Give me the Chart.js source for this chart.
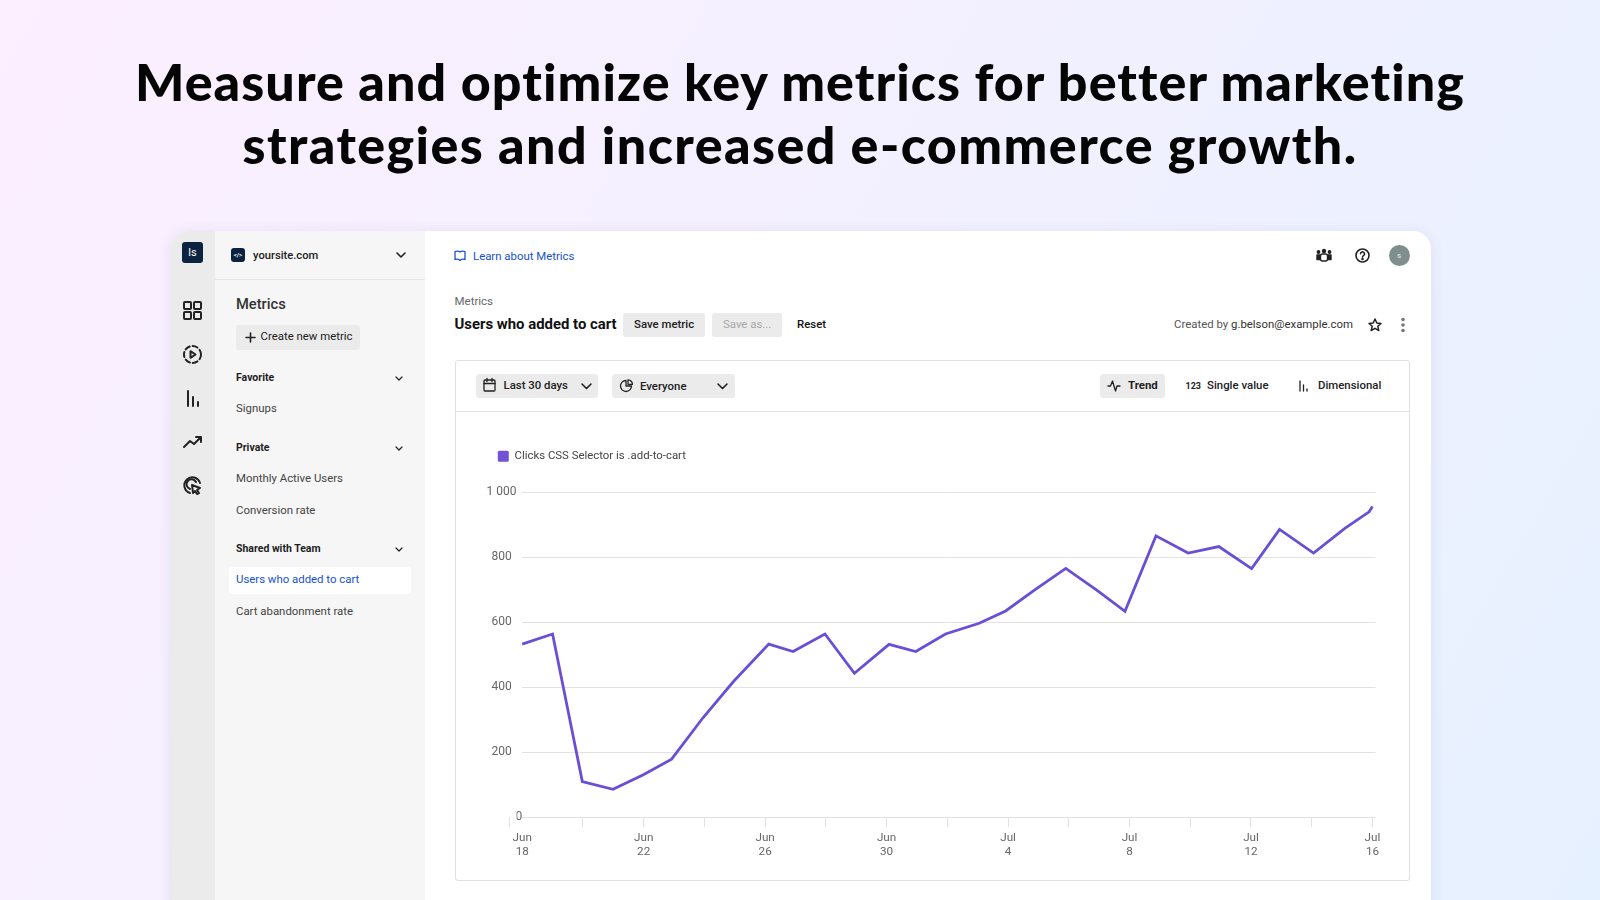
<!DOCTYPE html>
<html><head><meta charset="utf-8">
<script src="https://cdn.jsdelivr.net/npm/chart.js@4"></script>
<style>
html,body{margin:0;padding:0;width:1600px;height:900px;overflow:hidden}
body{position:relative;background:linear-gradient(120deg,#fcefff 0%,#f3f0ff 45%,#e6f1ff 100%);font-family:Roboto,sans-serif;color:#222}
.h{position:absolute;left:0;width:1600px;text-align:center;font-family:Lato,sans-serif;font-weight:900;font-size:52px;line-height:64px;color:#050505;white-space:nowrap}
.b{position:absolute}
.t{position:absolute;transform:translateY(-50%);font-size:11.4px;line-height:16px;white-space:nowrap}
.m{font-weight:500}
.s{font-weight:700;font-size:10.5px;color:#1e1e1e}
.g{color:#444}
.btn{position:absolute;background:#ebebeb;border-radius:3px}
svg{position:absolute;overflow:visible;fill:none;stroke:#222;stroke-width:1.6;stroke-linecap:round;stroke-linejoin:round}
svg.r{stroke-width:2}
</style></head><body>
<div class="h" style="top:48.5px;letter-spacing:1.07px">Measure and optimize key metrics for better marketing</div>
<div class="h" style="top:112px;letter-spacing:1.42px">strategies and increased e-commerce growth.</div>

<div class="b" style="left:171px;top:231px;width:1260px;height:700px;background:#fff;border-radius:18px;box-shadow:0 2px 14px rgba(90,80,150,.12);overflow:hidden"></div>
<div class="b" style="left:171px;top:231px;width:44px;height:669px;background:#ebebeb;border-top-left-radius:18px"></div>
<div class="b" style="left:215px;top:231px;width:210px;height:669px;background:#f6f6f6"></div>
<div class="b" style="left:215px;top:279px;width:210px;height:1px;background:#e6e6e6"></div>

<div class="b" style="left:182px;top:242px;width:21px;height:21px;background:#0c2340;border-radius:3px;color:#fff;font-size:11px;line-height:21px;text-align:center">ls</div>
<svg class="r" style="left:183px;top:301px" width="19" height="19"><rect x="1" y="1" width="7" height="7" rx="1"/><rect x="11" y="1" width="7" height="7" rx="1"/><rect x="1" y="11" width="7" height="7" rx="1"/><rect x="11" y="11" width="7" height="7" rx="1"/></svg>
<svg class="r" style="left:183px;top:345px" width="19" height="19"><circle cx="9.5" cy="9.5" r="8.5" stroke-dasharray="5 3"/><path d="M7.5 6.2v6.6l5-3.3z"/></svg>
<svg class="r" style="left:186px;top:390px" width="14" height="17"><path d="M2 1v15M7 7v9M12 12v4"/></svg>
<svg class="r" style="left:183px;top:435px" width="20" height="13"><path d="M1 12l6-6 4 3 7-7M13 2h5v5"/></svg>
<svg class="r" style="left:183px;top:476px" width="19" height="19"><path d="M17 7A8 8 0 1 0 7 17"/><path d="M13 6a5 5 0 1 0-6 7"/><path d="M9 9l8 3-3 2 2 3-2 1-2-3-2 2z"/></svg>

<div class="b" style="left:231px;top:248px;width:14px;height:14px;background:#0c2340;border-radius:3px;color:#fff;font-size:6px;line-height:14px;text-align:center;font-weight:700">&lt;/&gt;</div>
<div class="t m" style="left:253px;top:255.5px;font-size:11.2px">yoursite.com</div>
<svg style="left:396px;top:252px" width="10" height="6"><path d="M1 1l4 4 4-4"/></svg>
<div class="t m" style="left:236px;top:304px;font-size:14.7px;color:#333">Metrics</div>
<div class="btn" style="left:236px;top:325px;width:124px;height:25px"></div>
<svg style="left:245px;top:332px" width="11" height="11"><path d="M5.5 1v9M1 5.5h9"/></svg>
<div class="t" style="left:260.5px;top:336px">Create new metric</div>
<div class="t s" style="left:236px;top:377.500px">Favorite</div>
<svg style="left:395px;top:376px;stroke-width:1.2" width="8" height="5"><path d="M1 1l3 3 3-3"/></svg>
<div class="t g" style="left:236px;top:408px">Signups</div>
<div class="t s" style="left:236px;top:447.500px">Private</div>
<svg style="left:395px;top:446px;stroke-width:1.2" width="8" height="5"><path d="M1 1l3 3 3-3"/></svg>
<div class="t g" style="left:236px;top:478px">Monthly Active Users</div>
<div class="t g" style="left:236px;top:509.5px">Conversion rate</div>
<div class="t s" style="left:236px;top:548.5px">Shared with Team</div>
<svg style="left:395px;top:547px;stroke-width:1.2" width="8" height="5"><path d="M1 1l3 3 3-3"/></svg>
<div class="b" style="left:229px;top:567px;width:182px;height:27px;background:#fff;border-radius:3px"></div>
<div class="t" style="left:236px;top:579px;color:#1652cf">Users who added to cart</div>
<div class="t g" style="left:236px;top:610.5px">Cart abandonment rate</div>

<svg style="left:454px;top:250px;stroke:#1652cf;stroke-width:1.3" width="12" height="12"><path d="M1 1.5c2-.6 3.5-.4 5 .4 1.500-.8 3-1 5-.4v8c-2-.6-3.500-.4-5 .9-1.500-1.300-3-1.500-5-.9z"/></svg>
<div class="t" style="left:473px;top:256px;color:#1652cf">Learn about Metrics</div>
<svg style="left:1316px;top:249px;stroke-width:1.4" width="16" height="13"><circle cx="8" cy="2" r="1.500" fill="#222"/><circle cx="2.500" cy="3" r="1.200" fill="#222"/><circle cx="13.500" cy="3" r="1.200" fill="#222"/><rect x="4.500" y="5" width="7" height="7" rx="2"/><path d="M1 6h3v4.500H1zM12 6h3v4.500h-3z" fill="#222"/></svg>
<svg style="left:1355px;top:248px" width="15" height="15"><circle cx="7.500" cy="7.500" r="6.500"/><path d="M5.500 5.800a2 2 0 1 1 3 1.800c-.7.400-1 .8-1 1.500" /><circle cx="7.500" cy="11" r=".5" fill="#222"/></svg>
<div class="b" style="left:1388.500px;top:244.500px;width:21px;height:21px;border-radius:50%;background:#7f8f8c;color:#e8eeee;font-size:8px;line-height:21px;text-align:center">s</div>

<div class="t" style="left:454.500px;top:301px;font-size:11.500px;color:#666">Metrics</div>
<div class="t" style="left:454.500px;top:324px;font-size:14.900px;font-weight:700;color:#111">Users who added to cart</div>
<div class="btn" style="left:623px;top:312.500px;width:82px;height:24.500px"></div>
<div class="t m" style="left:634px;top:323.500px">Save metric</div>
<div class="btn" style="left:712px;top:312.500px;width:70px;height:24.500px"></div>
<div class="t" style="left:723px;top:324px;color:#a8a8a8">Save as...</div>
<div class="t m" style="left:797px;top:323.500px;color:#111">Reset</div>
<div class="t" style="left:1174px;top:324px;color:#555">Created by <span style="color:#333">g.belson@example.com</span></div>
<svg style="left:1368px;top:318px;stroke-width:1.500" width="14" height="14"><path d="M7 1l1.800 4 4.200.4-3.200 2.800 1 4.300L7 10.300 3.200 12.500l1-4.300L1 5.400 5.200 5z"/></svg>
<svg style="left:1400px;top:317px;stroke:none;fill:#777" width="6" height="16"><circle cx="3" cy="2.500" r="1.800"/><circle cx="3" cy="8" r="1.800"/><circle cx="3" cy="13.500" r="1.800"/></svg>

<div class="b" style="left:455px;top:360px;width:953px;height:519px;border:1px solid #e0e0e0;border-radius:3px;background:#fff"></div>
<div class="b" style="left:456px;top:411px;width:953px;height:1px;background:#e2e2e2"></div>
<div class="btn" style="left:475.500px;top:373.500px;width:122.500px;height:24.500px"></div>
<svg style="left:483px;top:378px;stroke-width:1.300" width="13" height="14"><rect x="1" y="2" width="11" height="11" rx="1"/><path d="M1 5.500h11M4 .5v3M9 .5v3"/></svg>
<div class="t m" style="left:503.500px;top:385px">Last 30 days</div>
<svg style="left:580.500px;top:383px" width="11" height="7"><path d="M1 1l4.500 4.500L10 1"/></svg>
<div class="btn" style="left:612px;top:373.500px;width:123px;height:24.500px"></div>
<svg style="left:620px;top:379px;stroke-width:1.300" width="13" height="13"><path d="M6 1.500a5.500 5.500 0 1 0 5.500 5.500H6z"/><path d="M8 .8a5 5 0 0 1 4.500 4.500H8z"/></svg>
<div class="t m" style="left:640px;top:386px">Everyone</div>
<svg style="left:716.500px;top:383px" width="11" height="7"><path d="M1 1l4.500 4.500L10 1"/></svg>
<div class="btn" style="left:1100px;top:373.500px;width:65px;height:24.500px"></div>
<svg style="left:1107px;top:380px;stroke-width:1.300" width="14" height="12"><path d="M1 6h2.500l2-5 3 10 1.500-5h3"/></svg>
<div class="t" style="left:1128px;top:385px;font-weight:700">Trend</div>
<div class="t" style="left:1185.500px;top:385.500px;font-size:9px;font-weight:700">123</div>
<div class="t m" style="left:1207px;top:385px">Single value</div>
<svg style="left:1299px;top:380px;stroke-width:1.300" width="9" height="12"><path d="M1 1v10M4.500 5v6M8 9v2"/></svg>
<div class="t m" style="left:1318px;top:385px">Dimensional</div>

<canvas id="c" width="952" height="467" style="position:absolute;left:456px;top:412px"></canvas>

<script>
const seriesName = "Clicks CSS Selector is .add-to-cart";
const dayPositions = [0,1,1.98,2.99,3.99,4.92,5.96,6.95,8.12,8.92,9.97,10.94,12.08,12.96,13.94,15.05,15.92,16.88,17.9,18.92,19.85,20.87,21.93,22.94,24.02,24.94,26.06,27.09,27.89,28];
const values = [533,564,110,86,131,179,307,417,533,510,564,443,532,510,564,597,635,700,766,699,634,866,813,833,765,886,813,889,940,956];
const xTickLabels = [["Jun","18"],["Jun","22"],["Jun","26"],["Jun","30"],["Jul","4"],["Jul","8"],["Jul","12"],["Jul","16"]];
const yTickLabels = ["0","200","400","600","800","1 000"];
const lineColor = "#6a4fd6";
const gridColor = "#e2e2e2";
const textColor = "#666";
const font = {family:"Roboto",size:12};

const leadTick = {
  id:"leadTick",
  afterDraw(chart){
    const {ctx,scales:{x,y}} = chart;
    const px = Math.round(x.getPixelForValue(-0.43))+0.5, py = y.getPixelForValue(0);
    ctx.save();ctx.strokeStyle=gridColor;ctx.lineWidth=1;
    ctx.beginPath();ctx.moveTo(px,py);ctx.lineTo(px,py+10);ctx.stroke();ctx.restore();
  }
};
const legendGap = {
  id:"legendGap",
  beforeInit(chart){
    const fit = chart.legend.fit;
    chart.legend.fit = function(){ fit.call(this); this.height = 53.6; };
  }
};

new Chart(document.getElementById("c"),{
  type:"line",
  data:{datasets:[{
    label:seriesName,
    data:dayPositions.map((d,i)=>({x:d,y:values[i]})),
    yAxisID:"y",
    borderColor:lineColor,backgroundColor:"#7352d6",
    borderWidth:2.8,pointRadius:0,tension:0,fill:false,clip:false
  }]},
  options:{
    responsive:false,animation:false,
    layout:{padding:{left:30,right:32.5,top:26.7,bottom:0}},
    plugins:{
      tooltip:{enabled:false},
      legend:{display:true,position:"top",align:"start",
        labels:{boxWidth:11,boxHeight:11,padding:11.8,color:"#444",font:{family:"Roboto",size:11.4},useBorderRadius:true,borderRadius:1.5,
          generateLabels:c=>Chart.defaults.plugins.legend.labels.generateLabels(c).map(l=>({...l,lineWidth:0,strokeStyle:"transparent",fillStyle:"#7352d6"}))}
      }
    },
    scales:{
      x:{type:"linear",min:0,max:28.1,
        border:{display:false},
        grid:{drawOnChartArea:false,drawTicks:true,tickLength:10,
          tickColor:c=>c.tick&&c.tick.value===0?"transparent":gridColor},
        ticks:{stepSize:2,includeBounds:false,autoSkip:false,maxRotation:0,color:textColor,font:{family:"Roboto",size:11.7},padding:4,
          callback:v=>v%4===0?xTickLabels[v/4]:""},
        afterFit:s=>{s.height=61.7}
      },
      y:{type:"linear",position:"left",weight:1,min:0,max:1000,
        border:{display:false},
        grid:{color:gridColor,drawTicks:false},
        ticks:{stepSize:200,padding:0,crossAlign:"center",color:textColor,font,
          callback:v=>v===0?"":yTickLabels[v/200]},
        afterFit:s=>{s.width=30.5}
      },
      y0:{type:"linear",position:"left",weight:0,min:0,max:1000,
        border:{display:false},
        grid:{drawOnChartArea:false,drawTicks:false},
        ticks:{stepSize:200,padding:0,color:textColor,font,callback:v=>yTickLabels[v/200]},
        afterBuildTicks:s=>{s.ticks=s.ticks.filter(t=>t.value===0)},
        afterFit:s=>{s.width=5.7}
      }
    }
  },
  plugins:[leadTick,legendGap]
});
</script>
</body></html>
